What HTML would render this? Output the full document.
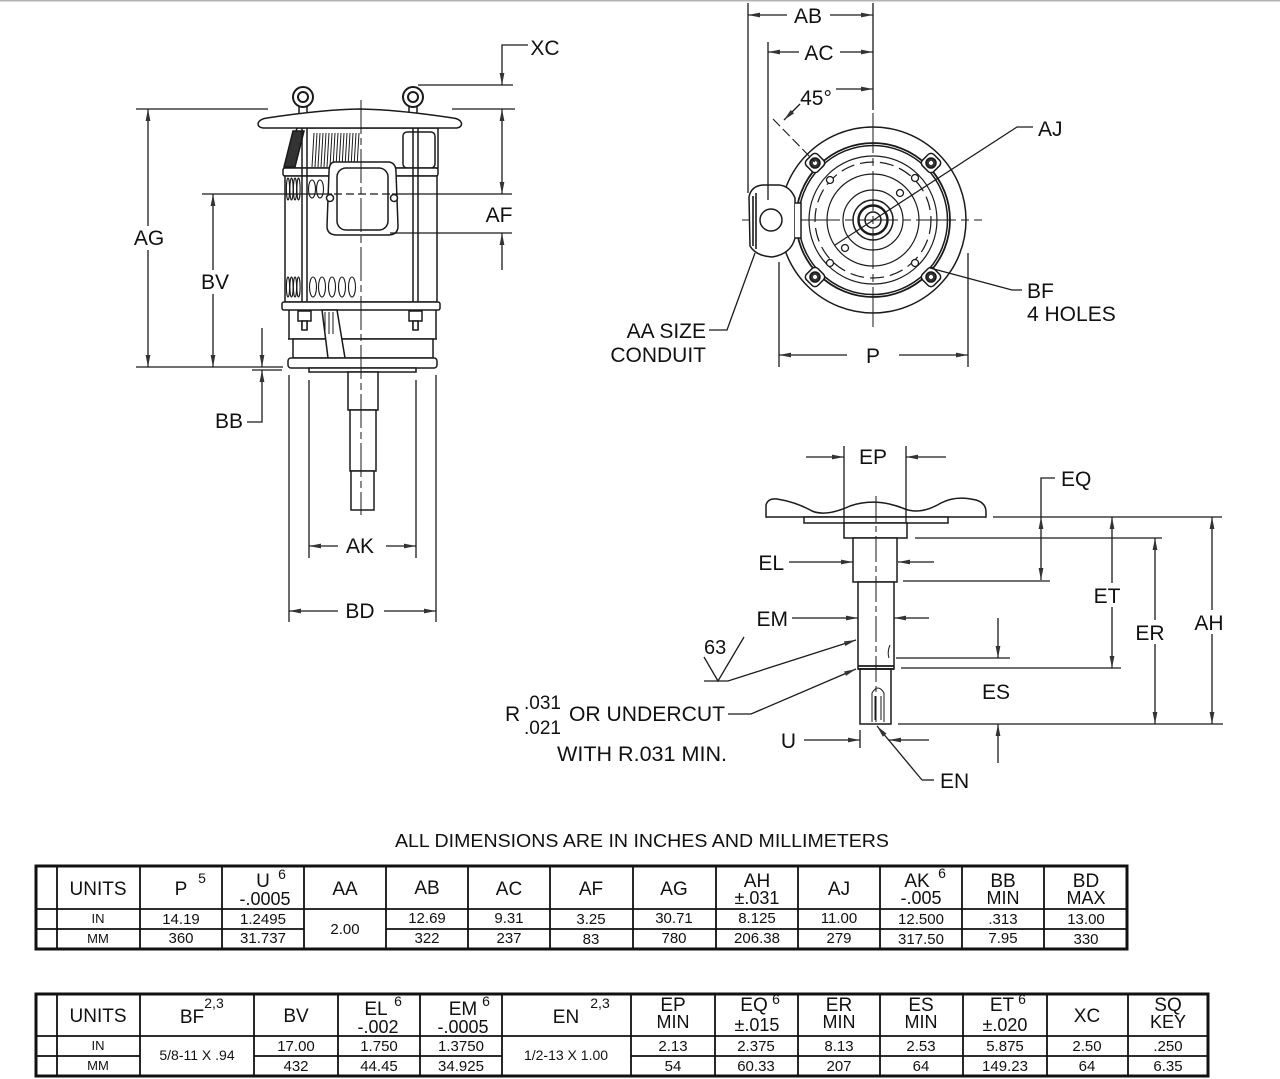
<!DOCTYPE html>
<html><head><meta charset="utf-8">
<style>
html,body{margin:0;padding:0;background:#fff;}
svg{display:block;}
text{font-family:"Liberation Sans",Arial,sans-serif;fill:#111;}
</style></head><body>
<svg width="1280" height="1079" viewBox="0 0 1280 1079" xmlns="http://www.w3.org/2000/svg">
<defs>
<marker id="a" viewBox="0 0 12 6" refX="12" refY="3" markerWidth="12" markerHeight="6" markerUnits="userSpaceOnUse" orient="auto-start-reverse"><path d="M0,0.6 L12,3 L0,5.4 z" fill="#333"/></marker>
</defs>
<rect width="1280" height="1079" fill="#fff"/>
<rect width="1280" height="1.5" fill="#b4b4b4"/>

<!-- ================= LEFT MOTOR ================= -->
<g stroke="#1a1a1a" stroke-width="1.5" fill="#fff">
  <!-- eye bolts -->
  <path d="M299,104 V114 M307,104 V114 M409,104 V114 M417,104 V114" fill="none"/>
  <circle cx="303" cy="97" r="10" stroke-width="2"/><circle cx="303" cy="97" r="5" stroke-width="2"/>
  <circle cx="413" cy="97" r="10" stroke-width="2"/><circle cx="413" cy="97" r="5" stroke-width="2"/>
  <!-- fan housing -->
  <path d="M297,128 L285,168 L438,168 L438,128 Z"/>
  <rect x="403" y="132" width="32" height="36" rx="4"/>
  <path d="M293,131 L304,131 L295,167 L284,167 Z" fill="#333"/>
  <g stroke-width="1" fill="none">
    <path d="M314,133 L312,167 M317,133 L315,167 M320,133 L318,167 M323,133 L321,167 M326,133 L324,167 M329,133 L327,167 M332,133 L330,167 M335,133 L333,167 M338,133 L336,167 M341,133 L339,167 M344,133 L342,167 M347,133 L345,167 M350,133 L348,167 M353,133 L351,167 M356,133 L354,167 M359,133 L357,167"/>
  </g>
  <!-- cap -->
  <path d="M263,128 C255,127 257,119 267,118 C300,113 330,109.5 360,109 C390,109.5 420,113 453,118 C463,119 464,127 457,128 Z"/>
  <!-- band -->
  <rect x="283" y="168" width="155" height="8" rx="2"/>
  <!-- main frame -->
  <rect x="285" y="176" width="152" height="126"/>
  <!-- fins -->
  <g stroke-width="1.1">
    <ellipse cx="288" cy="189" rx="1.6" ry="11"/><ellipse cx="291.5" cy="189" rx="1.6" ry="11"/><ellipse cx="295" cy="189" rx="1.6" ry="11"/><ellipse cx="298.5" cy="189" rx="1.6" ry="11"/>
    <ellipse cx="312" cy="189" rx="3.5" ry="9"/><ellipse cx="320" cy="189" rx="3.5" ry="9"/>
    <ellipse cx="288" cy="287" rx="1.6" ry="10"/><ellipse cx="291.5" cy="287" rx="1.6" ry="10"/><ellipse cx="295" cy="287" rx="1.6" ry="10"/><ellipse cx="298.5" cy="287" rx="1.6" ry="10"/>
    <ellipse cx="313" cy="287" rx="3.5" ry="10"/><ellipse cx="322" cy="287" rx="3.5" ry="10"/><ellipse cx="332" cy="287" rx="3.5" ry="10"/><ellipse cx="342" cy="287" rx="3.5" ry="10"/><ellipse cx="352" cy="287" rx="3.5" ry="10"/>
  </g>
  <!-- rods -->
  <path d="M302,128 V330 M307,128 V330 M413,128 V330 M418,128 V330" fill="none"/>
  <!-- conduit box -->
  <path d="M334,162 L389,162 Q396,163 396,172 L398,226 Q398,235 388,235 L337,235 Q327,235 327,226 L329,172 Q329,163 334,162 Z"/>
  <rect x="337" y="168" width="51" height="62" rx="9"/>
  <circle cx="330" cy="198" r="3.5"/><circle cx="394" cy="198" r="3.5"/>
  <!-- bottom band -->
  <rect x="282" y="302" width="158" height="8" rx="2"/>
  <!-- bracket -->
  <path d="M289,310 V339 M436,310 V339" fill="none"/>
  <path d="M288,339 H437" fill="none"/>
  <rect x="293" y="339" width="140" height="19"/>
  <path d="M322,310 L337,310 L345,358 L328,358 Z"/>
  <path d="M325,312 V334 M329,312 V334 M333,312 V334" fill="none" stroke-width="1"/>
  <rect x="298" y="311" width="13" height="10"/><rect x="302" y="321" width="5" height="9"/>
  <rect x="409" y="311" width="13" height="10"/><rect x="413" y="321" width="5" height="9"/>
  <!-- flange -->
  <rect x="288" y="358" width="149" height="10" rx="3"/>
  <rect x="309" y="368" width="107" height="4"/>
  <!-- shaft -->
  <rect x="348" y="372" width="30" height="38"/>
  <rect x="350" y="410" width="26" height="61"/>
  <rect x="351" y="471" width="23" height="39"/>
  <!-- centerline -->
  <path d="M361,100 V515" fill="none" stroke-width="1" stroke-dasharray="34,4,7,4"/>
</g>

<!-- left dimensions -->
<g stroke="#1a1a1a" stroke-width="1.3" fill="none">
  <path d="M528,45 H502 V85" marker-end="url(#a)"/>
  <path d="M418,85 H513"/>
  <path d="M136,109 H268 M452,109 H515"/>
  <path d="M502,109 V194" marker-start="url(#a)" marker-end="url(#a)"/>
  <path d="M502,270 V233" marker-end="url(#a)"/>
  <path d="M202,194 H332 M392,194 H512"/>
  <path d="M334,194 H390" stroke-dasharray="8,4"/>
  <path d="M390,233 H512"/>
  <path d="M148,109 V367" marker-start="url(#a)" marker-end="url(#a)"/>
  <path d="M136,367 H283"/>
  <path d="M213,194 V367" marker-start="url(#a)" marker-end="url(#a)"/>
  <path d="M262,328 V367" marker-end="url(#a)"/>
  <path d="M252,370 H282"/>
  <path d="M247,422 H262 V370" marker-end="url(#a)"/>
  <path d="M309,380 V558 M416,380 V558"/>
  <path d="M338,546 H309" marker-end="url(#a)"/>
  <path d="M386,546 H416" marker-end="url(#a)"/>
  <path d="M289,375 V622 M436,375 V622"/>
  <path d="M338,611 H289" marker-end="url(#a)"/>
  <path d="M384,611 H436" marker-end="url(#a)"/>
</g>
<rect x="131" y="226" width="35" height="24" fill="#fff"/>
<rect x="198" y="270" width="34" height="24" fill="#fff"/>
<g font-size="21">
  <text x="545" y="55" text-anchor="middle">XC</text>
  <text x="499" y="222" text-anchor="middle">AF</text>
  <text x="149" y="245" text-anchor="middle">AG</text>
  <text x="215" y="289" text-anchor="middle">BV</text>
  <text x="243" y="428" text-anchor="end">BB</text>
  <text x="360" y="553" text-anchor="middle">AK</text>
  <text x="360" y="618" text-anchor="middle">BD</text>
</g>

<!-- ================= TOP VIEW ================= -->
<g stroke="#1a1a1a" stroke-width="1.5" fill="none">
  <circle cx="873" cy="220" r="93"/>
  <circle cx="873" cy="220" r="77" stroke-width="1.8"/>
  <circle cx="873" cy="220" r="74.5"/>
  <circle cx="873" cy="220" r="64" stroke-width="1.2"/>
  <circle cx="873" cy="220" r="58" stroke-width="1.2" stroke-dasharray="14,6"/>
  <circle cx="873" cy="220" r="46" stroke-width="1.2"/>
  <circle cx="873" cy="220" r="30" stroke-width="1.2"/>
  <circle cx="873" cy="220" r="20"/>
  <circle cx="873" cy="220" r="14.5" stroke-width="2.4"/>
  <circle cx="873" cy="220" r="8"/>
  <!-- ears -->
  <g fill="#fff">
    <g transform="translate(815,163) rotate(45)"><rect x="-8" y="-8" width="16" height="16" rx="4"/><circle r="5" fill="#333"/><circle r="2" fill="#fff" stroke="none"/></g>
    <g transform="translate(931,163) rotate(45)"><rect x="-8" y="-8" width="16" height="16" rx="4"/><circle r="5" fill="#333"/><circle r="2" fill="#fff" stroke="none"/></g>
    <g transform="translate(815,277) rotate(45)"><rect x="-8" y="-8" width="16" height="16" rx="4"/><circle r="5" fill="#333"/><circle r="2" fill="#fff" stroke="none"/></g>
    <g transform="translate(931,277) rotate(45)"><rect x="-8" y="-8" width="16" height="16" rx="4"/><circle r="5" fill="#333"/><circle r="2" fill="#fff" stroke="none"/></g>
  </g>
  <!-- small holes -->
  <g fill="#fff" stroke-width="1.3">
    <circle cx="830" cy="180" r="3.5"/><circle cx="915" cy="178" r="3.5"/><circle cx="900" cy="193" r="3.5"/>
    <circle cx="845" cy="248" r="3.5"/><circle cx="830" cy="263" r="3.5"/><circle cx="915" cy="263" r="3.5"/>
  </g>
  <!-- centerlines -->
  <path d="M873,113 V327" stroke-width="1" stroke-dasharray="40,5,8,5"/>
  <path d="M742,220 H982" stroke-width="1" stroke-dasharray="40,5,8,5"/>
  <!-- 45 deg diagonal -->
  <path d="M773,119 L815,162" stroke-width="1.1" stroke-dasharray="10,4"/>
  <!-- AJ -->
  <path d="M1033,127 H1017 L835,245" stroke-width="1.2"/>
  <!-- conduit box -->
  <path d="M749,197 Q751,186 763,185 L779,185 Q790,186 795,198 L795,238 Q791,254 772,257 Q756,256 750,246 Z" fill="#fff"/>
  <path d="M795,203 H801 V238 H795" fill="#fff"/>
  <path d="M753,196 V246 M756,193 V249" stroke-width="1.6"/>
  <circle cx="771" cy="220" r="11" fill="#fff"/>
</g>
<g stroke="#1a1a1a" stroke-width="1.3" fill="none">
  <path d="M748,3 V193"/>
  <path d="M873,3 V110"/>
  <path d="M768,42 V200"/>
  <path d="M787,15 H748" marker-end="url(#a)"/>
  <path d="M830,15 H873" marker-end="url(#a)"/>
  <path d="M799,52 H768" marker-end="url(#a)"/>
  <path d="M840,52 H873" marker-end="url(#a)"/>
  <path d="M836,89 H873" marker-end="url(#a)"/>
  <path d="M800,104 L784,120" marker-end="url(#a)"/>
  <path d="M755,253 L727,330 H709"/>
  <path d="M930,268 L1012,290 H1022"/>
  <path d="M779,262 V367 M968,253 V367"/>
  <path d="M847,355 H779" marker-end="url(#a)"/>
  <path d="M899,355 H968" marker-end="url(#a)"/>
</g>
<g font-size="21">
  <text x="808" y="23" text-anchor="middle">AB</text>
  <text x="819" y="60" text-anchor="middle">AC</text>
  <text x="816" y="105" text-anchor="middle">45°</text>
  <text x="1038" y="136">AJ</text>
  <text x="1027" y="298">BF</text>
  <text x="1027" y="321">4 HOLES</text>
  <text x="706" y="338" text-anchor="end">AA SIZE</text>
  <text x="706" y="362" text-anchor="end">CONDUIT</text>
  <text x="873" y="363" text-anchor="middle">P</text>
</g>

<!-- ================= SHAFT DETAIL ================= -->
<g stroke="#1a1a1a" stroke-width="1.5" fill="#fff">
  <path d="M766,517 L766,505 Q768,498 777,499 Q796,502 812,511 Q826,517 850,506 Q876,497 905,509 Q921,515 941,503 Q956,495 976,500 Q986,503 986,512 L986,517 Z"/>
  <rect x="804" y="517" width="144" height="6"/>
  <rect x="844" y="523" width="63" height="15"/>
  <rect x="853" y="538" width="44" height="44"/>
  <rect x="858" y="582" width="36" height="87"/>
  <rect x="860" y="669" width="31" height="55"/>
  <path d="M858,666 H894 M858,669 H894" stroke-width="1.8" fill="none"/>
  <path d="M872,722 V693 Q878,683 884,693 V722 M875,720 V696 M881,720 V696" fill="none" stroke-width="1"/>
  <path d="M890,645 Q887,652 889,658" fill="none" stroke-width="1"/>
  <path d="M876,496 V726" fill="none" stroke-width="1" stroke-dasharray="26,4,6,4"/>
</g>
<g stroke="#1a1a1a" stroke-width="1.3" fill="none">
  <path d="M844,446 V523 M906,446 V523"/>
  <path d="M806,457 H844" marker-end="url(#a)"/>
  <path d="M946,457 H906" marker-end="url(#a)"/>
  <path d="M1055,478 H1041 V517"/>
  <path d="M1041,517 V580" marker-start="url(#a)" marker-end="url(#a)"/>
  <path d="M993,517 H1222"/>
  <path d="M903,581 H1050"/>
  <path d="M1112,517 V668" marker-start="url(#a)" marker-end="url(#a)"/>
  <path d="M901,668 H1121"/>
  <path d="M1155,538 V724" marker-start="url(#a)" marker-end="url(#a)"/>
  <path d="M915,538 H1162"/>
  <path d="M1212,517 V724" marker-start="url(#a)" marker-end="url(#a)"/>
  <path d="M898,724 H1223"/>
  <path d="M998,618 V658" marker-end="url(#a)"/>
  <path d="M896,658 H1010"/>
  <path d="M998,763 V724" marker-end="url(#a)"/>
  <path d="M789,562 H853" marker-end="url(#a)"/>
  <path d="M934,562 H898" marker-end="url(#a)"/>
  <path d="M792,618 H858" marker-end="url(#a)"/>
  <path d="M929,618 H894" marker-end="url(#a)"/>
  <path d="M704,657 L718,681 L744,637"/>
  <path d="M704,681 H728 L856,640" marker-end="url(#a)"/>
  <path d="M728,714 H751 L856,669" marker-end="url(#a)"/>
  <path d="M804,740 H860" marker-end="url(#a)"/>
  <path d="M929,740 H889" marker-end="url(#a)"/>
  <path d="M860,730 V748"/>
  <path d="M922,780 L877,726" marker-end="url(#a)"/>
  <path d="M922,780 H934"/>
</g>
<rect x="1092" y="583" width="32" height="24" fill="#fff"/>
<rect x="1133" y="620" width="34" height="24" fill="#fff"/>
<rect x="1192" y="610" width="35" height="24" fill="#fff"/>
<g font-size="21">
  <text x="873" y="464" text-anchor="middle">EP</text>
  <text x="1061" y="486">EQ</text>
  <text x="784" y="570" text-anchor="end">EL</text>
  <text x="788" y="626" text-anchor="end">EM</text>
  <text x="1107" y="603" text-anchor="middle">ET</text>
  <text x="1150" y="640" text-anchor="middle">ER</text>
  <text x="1209" y="630" text-anchor="middle">AH</text>
  <text x="704" y="654" font-size="20">63</text>
  <text x="996" y="699" text-anchor="middle">ES</text>
  <text x="505" y="721">R</text>
  <text x="524" y="709" font-size="19">.031</text>
  <text x="524" y="734" font-size="19">.021</text>
  <text x="569" y="721" textLength="156" lengthAdjust="spacingAndGlyphs">OR UNDERCUT</text>
  <text x="557" y="761" textLength="170" lengthAdjust="spacingAndGlyphs">WITH R.031 MIN.</text>
  <text x="796" y="748" text-anchor="end">U</text>
  <text x="940" y="788">EN</text>
</g>

<!-- ================= TABLES ================= -->
<text x="395" y="847" font-size="18" textLength="494" lengthAdjust="spacingAndGlyphs">ALL DIMENSIONS ARE IN INCHES AND MILLIMETERS</text>

<!-- table 1 -->
<g stroke="#111" fill="none">
  <path d="M36,909 H1127 M36,929 H304 M386,929 H1127" stroke-width="1.8"/>
  <path d="M57,866 V949 M140,866 V949 M222,866 V949 M304,866 V949 M386,866 V949 M468,866 V949 M550,866 V949 M633,866 V949 M716,866 V949 M798,866 V949 M880,866 V949 M962,866 V949 M1044,866 V949" stroke-width="1.8"/>
  <rect x="36" y="866" width="1091" height="83" stroke-width="3"/>
</g>
<g font-size="19" text-anchor="middle">
  <text x="98" y="895">UNITS</text>
  <text x="181" y="895">P</text><text x="202" y="883" font-size="14">5</text>
  <text x="263" y="887">U</text><text x="282" y="879" font-size="14">6</text>
  <text x="265" y="905" font-size="18">-.0005</text>
  <text x="345" y="895">AA</text>
  <text x="427" y="894">AB</text>
  <text x="509" y="895">AC</text>
  <text x="591" y="895">AF</text>
  <text x="674" y="895">AG</text>
  <text x="757" y="887">AH</text><text x="757" y="904" font-size="18">±.031</text>
  <text x="839" y="895">AJ</text>
  <text x="917" y="887">AK</text><text x="942" y="878" font-size="14">6</text><text x="921" y="904" font-size="18">-.005</text>
  <text x="1003" y="887">BB</text><text x="1003" y="904" font-size="18">MIN</text>
  <text x="1086" y="887">BD</text><text x="1086" y="904" font-size="18">MAX</text>
</g>
<g font-size="15" text-anchor="middle">
  <text x="98" y="923" font-size="13">IN</text><text x="98" y="943" font-size="13">MM</text>
  <text x="181" y="924">14.19</text><text x="181" y="943">360</text>
  <text x="263" y="924">1.2495</text><text x="263" y="943">31.737</text>
  <text x="345" y="934">2.00</text>
  <text x="427" y="923">12.69</text><text x="427" y="943">322</text>
  <text x="509" y="923">9.31</text><text x="509" y="943">237</text>
  <text x="591" y="924">3.25</text><text x="591" y="944">83</text>
  <text x="674" y="923">30.71</text><text x="674" y="943">780</text>
  <text x="757" y="923">8.125</text><text x="757" y="943">206.38</text>
  <text x="839" y="923">11.00</text><text x="839" y="943">279</text>
  <text x="921" y="924">12.500</text><text x="921" y="944">317.50</text>
  <text x="1003" y="924">.313</text><text x="1003" y="943">7.95</text>
  <text x="1086" y="924">13.00</text><text x="1086" y="944">330</text>
</g>

<!-- table 2 -->
<g stroke="#111" fill="none">
  <path d="M36,1036 H1208 M36,1056 H140 M254,1056 H502 M631,1056 H1208" stroke-width="1.8"/>
  <path d="M57,994 V1076 M140,994 V1076 M254,994 V1076 M338,994 V1076 M420,994 V1076 M502,994 V1076 M631,994 V1076 M715,994 V1076 M798,994 V1076 M880,994 V1076 M963,994 V1076 M1047,994 V1076 M1128,994 V1076" stroke-width="1.8"/>
  <rect x="36" y="994" width="1172" height="82" stroke-width="3"/>
</g>
<g font-size="19" text-anchor="middle">
  <text x="98" y="1022">UNITS</text>
  <text x="192" y="1023">BF</text><text x="214" y="1008" font-size="14">2,3</text>
  <text x="296" y="1022">BV</text>
  <text x="376" y="1015">EL</text><text x="398" y="1006" font-size="14">6</text><text x="378" y="1033" font-size="18">-.002</text>
  <text x="463" y="1015">EM</text><text x="486" y="1006" font-size="14">6</text><text x="463" y="1033" font-size="18">-.0005</text>
  <text x="566" y="1023">EN</text><text x="600" y="1008" font-size="14">2,3</text>
  <text x="673" y="1011">EP</text><text x="673" y="1028" font-size="18">MIN</text>
  <text x="754" y="1011">EQ</text><text x="776" y="1004" font-size="14">6</text><text x="757" y="1031" font-size="18">±.015</text>
  <text x="839" y="1011">ER</text><text x="839" y="1028" font-size="18">MIN</text>
  <text x="921" y="1011">ES</text><text x="921" y="1028" font-size="18">MIN</text>
  <text x="1002" y="1011">ET</text><text x="1022" y="1004" font-size="14">6</text><text x="1005" y="1031" font-size="18">±.020</text>
  <text x="1087" y="1022">XC</text>
  <text x="1168" y="1011">SQ</text><text x="1168" y="1028" font-size="18">KEY</text>
</g>
<g font-size="15" text-anchor="middle">
  <text x="98" y="1050" font-size="13">IN</text><text x="98" y="1070" font-size="13">MM</text>
  <text x="197" y="1060" font-size="14">5/8-11 X .94</text>
  <text x="296" y="1051">17.00</text><text x="296" y="1071">432</text>
  <text x="379" y="1051">1.750</text><text x="379" y="1071">44.45</text>
  <text x="461" y="1051">1.3750</text><text x="461" y="1071">34.925</text>
  <text x="566" y="1060" font-size="14">1/2-13 X 1.00</text>
  <text x="673" y="1051">2.13</text><text x="673" y="1071">54</text>
  <text x="756" y="1051">2.375</text><text x="756" y="1071">60.33</text>
  <text x="839" y="1051">8.13</text><text x="839" y="1071">207</text>
  <text x="921" y="1051">2.53</text><text x="921" y="1071">64</text>
  <text x="1005" y="1051">5.875</text><text x="1005" y="1071">149.23</text>
  <text x="1087" y="1051">2.50</text><text x="1087" y="1071">64</text>
  <text x="1168" y="1051">.250</text><text x="1168" y="1071">6.35</text>
</g>
</svg>
</body></html>
